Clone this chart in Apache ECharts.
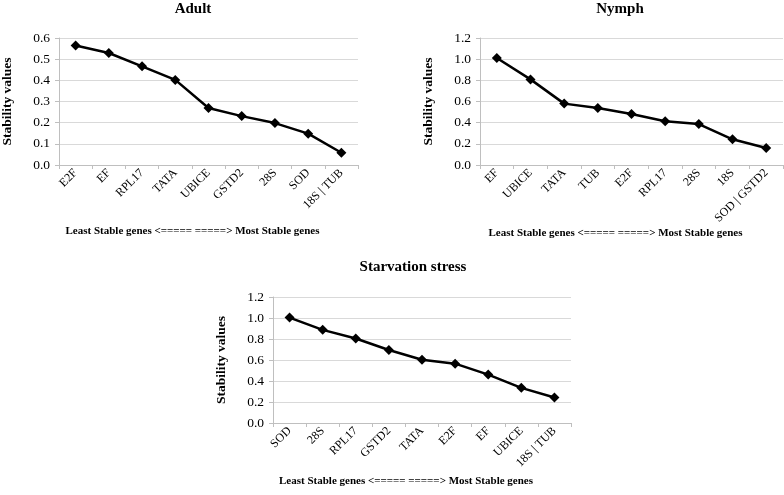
<!DOCTYPE html>
<html><head><meta charset="utf-8">
<script src="https://cdn.jsdelivr.net/npm/echarts@6/dist/echarts.min.js"></script>
<style>html,body{margin:0;padding:0;background:#fff}#c{width:784px;height:495px}</style>
</head><body><div id="c"></div>
<script>
const adultGenes = ['E2F','EF','RPL17','TATA','UBICE','GSTD2','28S','SOD','18S | TUB'];
const adultValues = [0.565,0.529,0.466,0.402,0.269,0.231,0.198,0.148,0.058];
const nymphGenes = ['EF','UBICE','TATA','TUB','E2F','RPL17','28S','18S','SOD | GSTD2'];
const nymphValues = [1.011,0.809,0.580,0.539,0.482,0.413,0.387,0.243,0.161];
const starvGenes = ['SOD','28S','RPL17','GSTD2','TATA','E2F','EF','UBICE','18S | TUB'];
const starvValues = [1.004,0.887,0.805,0.695,0.603,0.565,0.461,0.335,0.243];
const titles = ['Adult','Nymph','Starvation stress'];
const yName = 'Stability values';
const xName = 'Least Stable genes <===== =====> Most Stable genes';

const font = 'Liberation Serif';
const grids = [
  {left:59, top:38, width:299, height:127},
  {left:480, top:38, width:303, height:127},
  {left:273, top:297, width:298, height:126}
];
const yMax = [0.6,1.2,1.2], yInt=[0.1,0.2,0.2];
const cats = [adultGenes,nymphGenes,starvGenes];
const vals = [adultValues,nymphValues,starvValues];
const titlePos = [[188,-3],[615,-3],[408,255]];
const xGap = [61,61,53];

const option = {
  animation:false,
  backgroundColor:'#fff',
  title: titles.map((t,i)=>({text:t,left:titlePos[i][0],top:titlePos[i][1],textAlign:'center',
    textStyle:{fontFamily:font,fontSize:15,fontWeight:'bold',color:'#000'}})),
  grid: grids,
  xAxis: cats.map((c,i)=>({type:'category',gridIndex:i,data:c,boundaryGap:true,
    name:xName,nameLocation:'middle',nameGap:xGap[i],
    nameTextStyle:{fontFamily:font,fontSize:11,fontWeight:'bold',color:'#000',padding:[0,32,0,0]},
    axisLine:{lineStyle:{color:'#bfbfbf',width:1}},
    axisTick:{show:true,alignWithLabel:false,length:4,lineStyle:{color:'#bfbfbf'}},
    axisLabel:{rotate:45,interval:0,fontFamily:font,fontSize:12,color:'#000',margin:6}})),
  yAxis: grids.map((g,i)=>({type:'value',gridIndex:i,min:0,max:yMax[i],interval:yInt[i],
    name:yName,nameLocation:'middle',nameGap:44,nameRotate:90,
    nameTextStyle:{fontFamily:font,fontSize:13.5,fontWeight:'bold',color:'#000'},
    axisLine:{show:true,lineStyle:{color:'#bfbfbf'}},
    axisTick:{show:true,length:4,lineStyle:{color:'#bfbfbf'}},
    splitLine:{lineStyle:{color:'#d9d9d9'}},
    axisLabel:{fontFamily:font,fontSize:13.5,color:'#000',margin:9,formatter:v=>v.toFixed(1)}})),
  series: vals.map((v,i)=>({type:'line',xAxisIndex:i,yAxisIndex:i,data:v,
    symbol:'diamond',symbolSize:10,
    lineStyle:{color:'#000',width:2.5},itemStyle:{color:'#000'}}))
};
echarts.init(document.getElementById('c')).setOption(option);
</script></body></html>
